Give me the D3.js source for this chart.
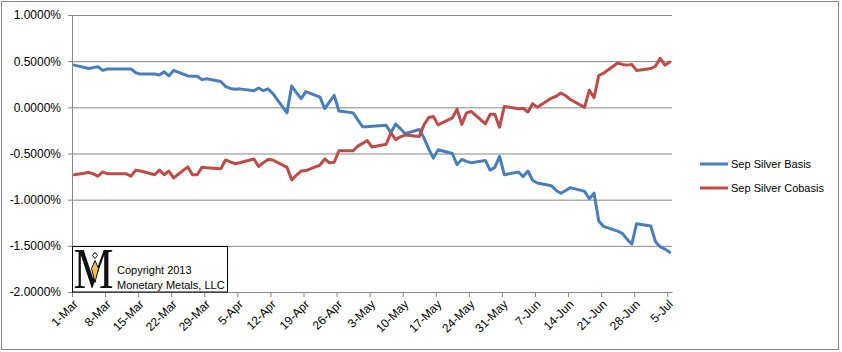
<!DOCTYPE html>
<html>
<head>
<meta charset="utf-8">
<script src="https://cdnjs.cloudflare.com/ajax/libs/d3/7.8.5/d3.min.js"></script>
<style>
  body { margin: 0; background: #fff; }
  svg { display: block; font-family: "Liberation Sans", Arial, sans-serif; }
</style>
</head>
<body>
<svg id="chart" width="842" height="352"></svg>
<script>
// Sep silver basis / cobasis in %, one value per weekday, 1-Mar .. 5-Jul 2013
const basis = [
  0.457, 0.42, 0.43, 0.44, 0.40, 0.415, 0.415, 0.415, 0.415, 0.375, 0.36, 0.36, 0.35, 0.385, 0.34, 0.40, 0.34, 0.337, 0.337, 0.30, 0.31, // Mar
  0.28, 0.225, 0.205, 0.195, 0.20, 0.18, 0.21, 0.18, 0.20, 0.15, -0.06, 0.23, 0.16, 0.095, 0.17, 0.11, -0.015, 0.06, 0.13, -0.04, -0.06, -0.135, // Apr
  -0.21, -0.21, -0.205, -0.195, -0.275, -0.18, -0.23, -0.285, -0.24, -0.33, -0.45, -0.55, -0.46, -0.50, -0.62, -0.565, -0.585, -0.60, -0.576, -0.68, -0.65, -0.53, -0.73, // May
  -0.70, -0.75, -0.69, -0.79, -0.82, -0.85, -0.90, -0.93, -0.90, -0.87, -0.91, -0.99, -0.93, -1.23, -1.29, -1.34, -1.365, -1.43, -1.48, -1.26, // Jun
  -1.285, -1.455, -1.51, -1.535, -1.57 // Jul
];
const cobasis = [
  -0.73, -0.705, -0.72, -0.745, -0.70, -0.72, -0.72, -0.72, -0.745, -0.68, -0.69, -0.73, -0.68, -0.73, -0.69, -0.765, -0.645, -0.73, -0.73, -0.65, -0.655, // Mar
  -0.665, -0.57, -0.59, -0.61, -0.60, -0.56, -0.64, -0.60, -0.565, -0.57, -0.65, -0.785, -0.735, -0.69, -0.685, -0.625, -0.56, -0.60, -0.595, -0.47, -0.47, -0.42, // Apr
  -0.39, -0.36, -0.43, -0.40, -0.275, -0.35, -0.32, -0.30, -0.315, -0.19, -0.11, -0.10, -0.19, -0.115, -0.02, -0.185, -0.06, -0.045, -0.18, -0.076, -0.076, -0.215, 0.01, // May
  -0.015, -0.01, -0.05, 0.04, 0.0, 0.10, 0.12, 0.155, 0.125, 0.085, 0.0, 0.185, 0.105, 0.345, 0.37, 0.48, 0.465, 0.457, 0.464, 0.40, // Jun
  0.42, 0.445, 0.53, 0.457, 0.49 // Jul
];
const tickLabels = ["1-Mar", "8-Mar", "15-Mar", "22-Mar", "29-Mar", "5-Apr", "12-Apr", "19-Apr", "26-Apr",
  "3-May", "10-May", "17-May", "24-May", "31-May", "7-Jun", "14-Jun", "21-Jun", "28-Jun", "5-Jul"];
const yTicks = [1, 0.5, 0, -0.5, -1, -1.5, -2];
const seriesNames = ["Sep Silver Basis", "Sep Silver Cobasis"];
const seriesColors = ["#4a7ebb", "#be4b48"];

var margin = { top: 15, left: 72 };
var width = 600, height = 277;

const root = d3.select("#chart");

// outer chart border
root.append("rect")
  .attr("x", 1.5).attr("y", 1.5)
  .attr("width", 837).attr("height", 348)
  .attr("fill", "#fff")
  .attr("stroke", "#868686");

const svg = root.append("g")
  .attr("transform", `translate(${margin.left},${margin.top})`);

// weekdays only (the series has a value for every weekday)
const days = d3.utcDay.range(new Date(Date.UTC(2013, 2, 1)), new Date(Date.UTC(2013, 6, 6)))
  .filter(d => d.getUTCDay() !== 0 && d.getUTCDay() !== 6);

const parseTick = d3.utcParse("%d-%b-%Y");
const tickDates = tickLabels.map(t => parseTick(t + "-2013"));

const x = d3.scaleUtc()
  .domain([new Date(Date.UTC(2013, 2, 1)), new Date(Date.UTC(2013, 6, 6))])
  .range([0, width]);

const y = d3.scaleLinear().domain([-2, 1]).range([height, 0]);

// gridlines
svg.append("g")
  .attr("class", "grid")
  .call(d3.axisLeft(y).tickValues(yTicks).tickSize(-width).tickFormat(""))
  .call(g => g.select(".domain").remove())
  .call(g => g.selectAll("line").attr("stroke", "#868686"));

// y axis
svg.append("g")
  .call(d3.axisLeft(y).tickValues(yTicks).tickSize(4).tickPadding(7)
    .tickFormat(d => d.toFixed(4) + "%"))
  .call(g => g.select(".domain").attr("stroke", "#868686"))
  .call(g => g.selectAll("line").attr("stroke", "#868686"))
  .call(g => g.selectAll("text").attr("fill", "#000").style("font-size", "12px"));

// x axis
svg.append("g")
  .attr("transform", `translate(0,${height})`)
  .call(d3.axisBottom(x).tickValues(tickDates).tickSize(5).tickSizeOuter(0)
    .tickFormat((d, i) => tickLabels[i]))
  .call(g => g.select(".domain").attr("stroke", "#868686"))
  .call(g => g.selectAll("line").attr("stroke", "#868686"))
  .call(g => g.selectAll("text")
    .attr("fill", "#000")
    .style("font-size", "12px")
    .attr("x", 0).attr("y", 0).attr("dy", "0.35em")
    .attr("text-anchor", "end")
    .attr("transform", "translate(3,10) rotate(-45)"));

// lines - points sit in the middle of their day slot like Excel's date axis
const line = d3.line()
  .x(d => x(d3.utcHour.offset(d.date, 12)))
  .y(d => y(d.value));

[basis, cobasis].forEach((vals, k) => {
  const pts = days.map((date, i) => ({ date: date, value: vals[i] }));
  svg.append("path")
    .datum(pts)
    .attr("d", line)
    .attr("fill", "none")
    .attr("stroke", seriesColors[k])
    .attr("stroke-width", 3)
    .attr("stroke-linejoin", "round")
    .attr("stroke-linecap", "round");
});

// legend
const legend = root.append("g").attr("transform", "translate(700,164)");
seriesNames.forEach((name, i) => {
  legend.append("line")
    .attr("x1", 0).attr("x2", 28)
    .attr("y1", i * 24).attr("y2", i * 24)
    .attr("stroke", seriesColors[i])
    .attr("stroke-width", 3);
  legend.append("text")
    .attr("x", 31).attr("y", i * 24)
    .attr("dy", "0.35em")
    .style("font-size", "11px")
    .attr("fill", "#000")
    .text(name);
});

// copyright box
const badge = root.append("g").attr("transform", "translate(72.5,246.5)");
badge.append("rect")
  .attr("width", 155).attr("height", 45.5)
  .attr("fill", "#fff")
  .attr("stroke", "#000");
badge.append("text")
  .attr("x", 21).attr("y", 41.5)
  .attr("text-anchor", "middle")
  .attr("textLength", 40).attr("lengthAdjust", "spacingAndGlyphs")
  .style("font-family", "'Liberation Serif', 'DejaVu Serif', serif")
  .style("font-size", "57px")
  .attr("fill", "#111")
  .text("M");
badge.append("path")
  .attr("d", "M22.5,6 L25,9 L22.5,12 L20,9 Z")
  .attr("fill", "#fff").attr("stroke", "#111").attr("stroke-width", 1);
badge.append("path")
  .attr("d", "M22.5,14 L26,22 L22.5,36 L19,22 Z")
  .attr("fill", "#f0c24a").attr("stroke", "#111").attr("stroke-width", 1);
badge.append("text")
  .attr("x", 44.5).attr("y", 27.5)
  .style("font-size", "11px").attr("fill", "#000")
  .text("Copyright 2013");
badge.append("text")
  .attr("x", 44.5).attr("y", 42.5)
  .style("font-size", "11px").attr("fill", "#000")
  .text("Monetary Metals, LLC");
</script>
</body>
</html>
